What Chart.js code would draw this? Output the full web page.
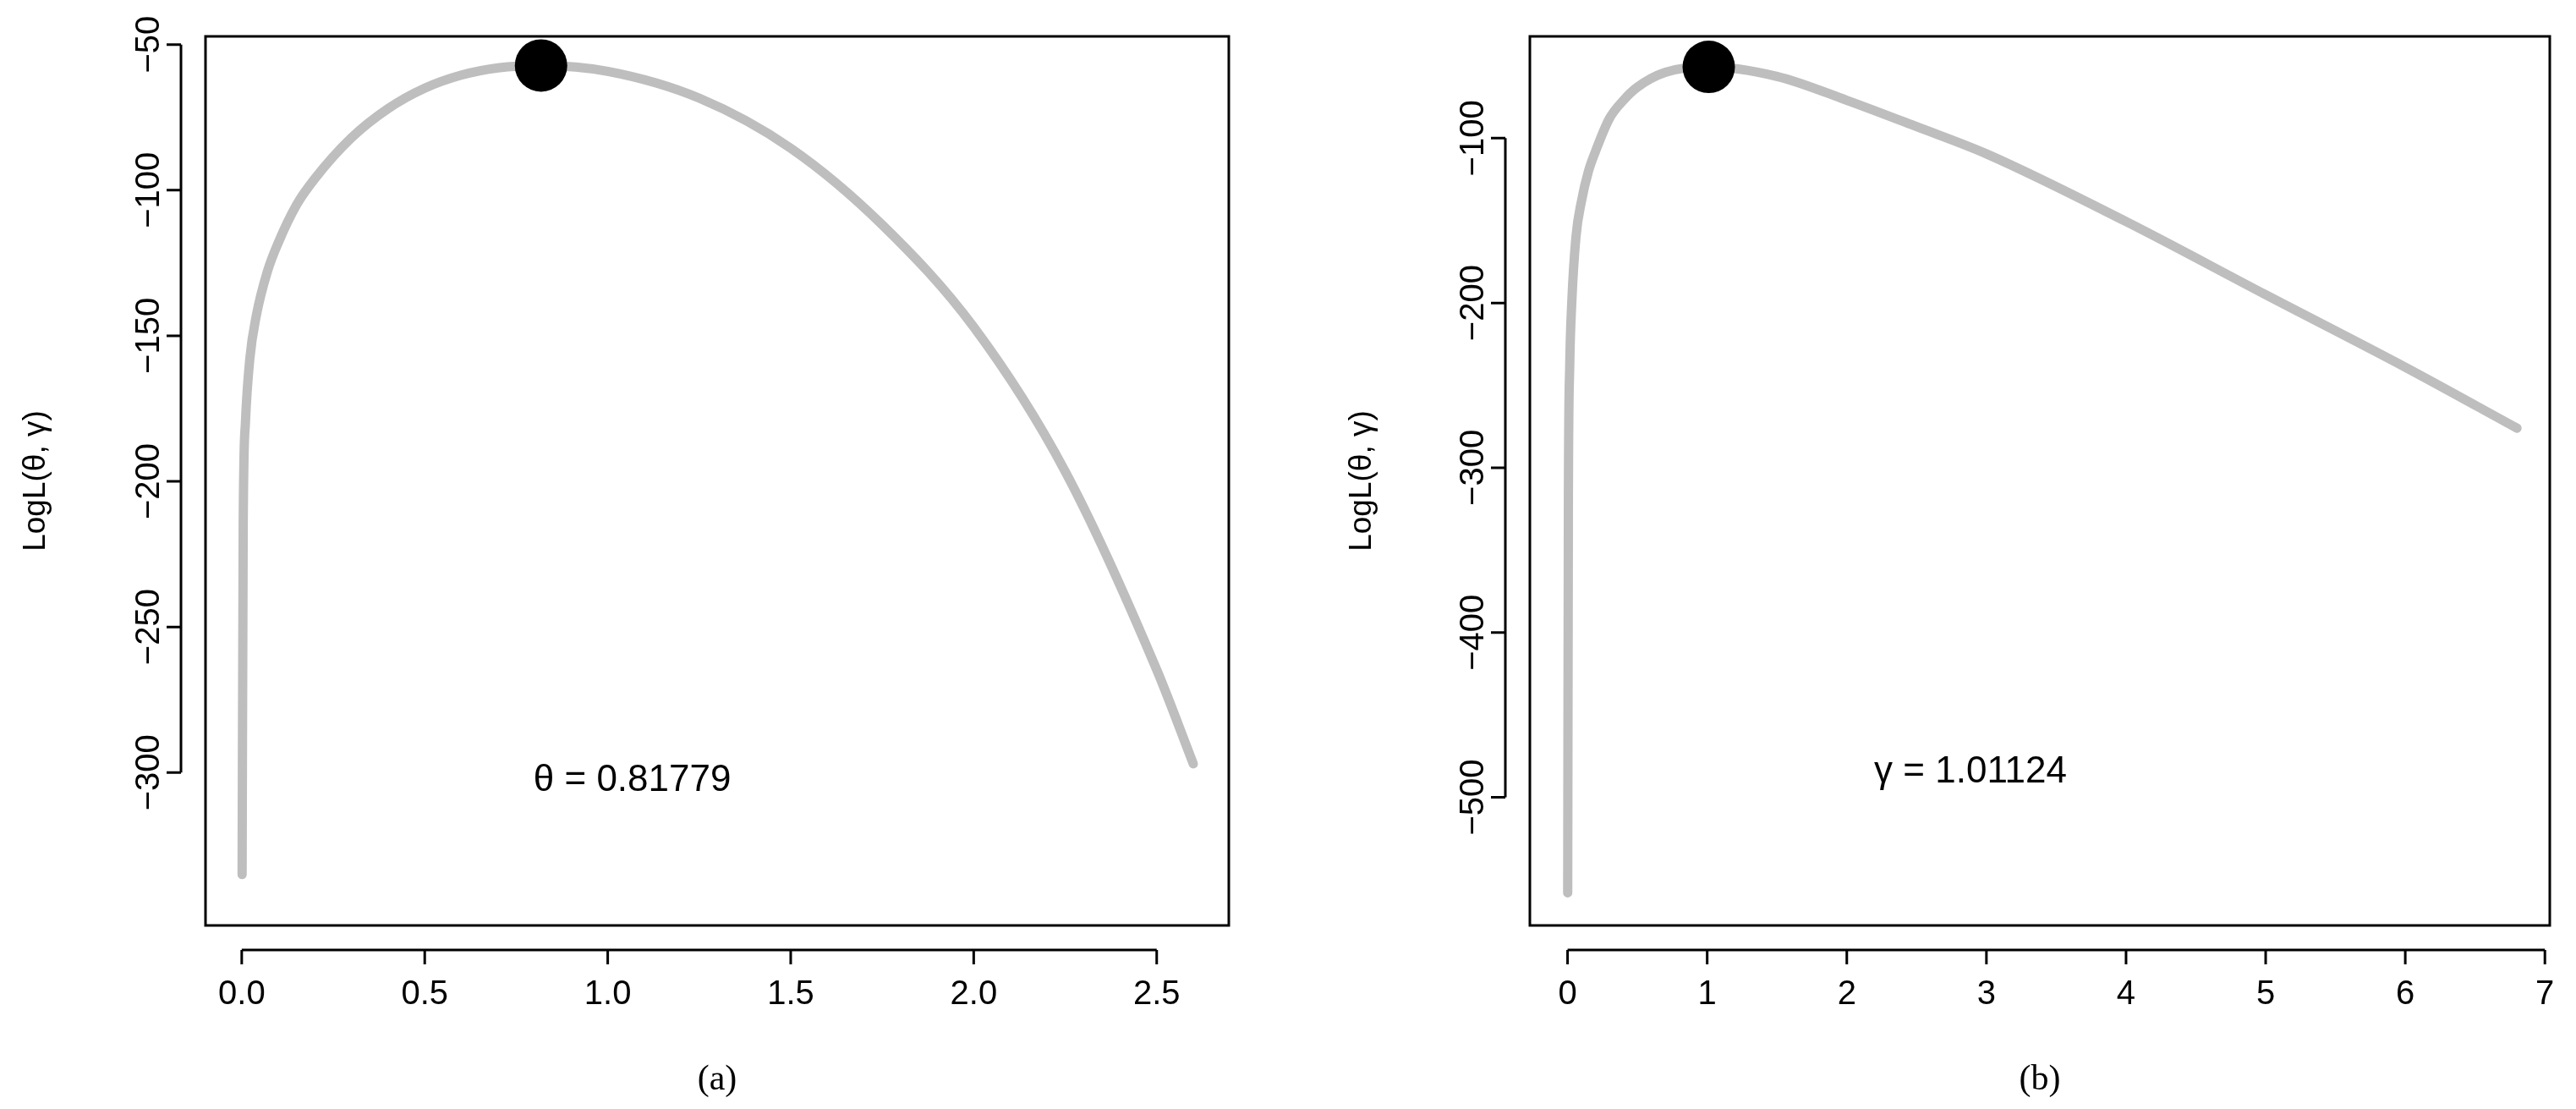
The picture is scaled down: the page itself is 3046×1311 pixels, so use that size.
<!DOCTYPE html>
<html><head><meta charset="utf-8">
<script src="https://cdn.jsdelivr.net/npm/chart.js@4/dist/chart.umd.min.js"></script>
<style>
html,body{margin:0;padding:0;background:#fff;}
#wrap{position:relative;width:3046px;height:1311px;}
canvas{position:absolute;top:0;}
</style></head><body>
<div id="wrap">
<canvas id="ca" style="left:0"></canvas>
<canvas id="cb" style="left:1523px"></canvas>
</div>
<script>
// Panel (a): log-likelihood in theta
const thetaX = [0.001,0.004,0.01,0.022,0.04,0.07,0.1,0.15,0.2,0.3,0.4,0.5,0.6,0.7,0.818,1.0,1.25,1.5,1.75,2.0,2.25,2.5,2.6];
const thetaY = [-335,-215,-180,-158,-143,-128,-118,-105,-96,-82,-72,-65,-60.5,-58,-57.2,-59.2,-68.4,-85.6,-111.9,-147,-196.6,-264.7,-297];
const thetaMax = [0.81779, -57.2];
const thetaXTicks = [0,0.5,1,1.5,2,2.5];
const thetaXLabels = ["0.0","0.5","1.0","1.5","2.0","2.5"];
const thetaYTicks = [-50,-100,-150,-200,-250,-300];
// Panel (b): log-likelihood in gamma
const gammaX = [0.001,0.006,0.015,0.03,0.06,0.1,0.15,0.2,0.3,0.4,0.5,0.7,1.0,1.5,2.0,2.5,3.0,4.0,5.0,6.0,6.8];
const gammaY = [-558,-317,-240,-200,-160,-138,-120,-108,-88,-77,-69,-60,-56.7,-62.5,-77,-93,-109.5,-150.6,-195,-239,-276];
const gammaMax = [1.01124, -56.7];
const gammaXTicks = [0,1,2,3,4,5,6,7];
const gammaXLabels = ["0","1","2","3","4","5","6","7"];
const gammaYTicks = [-100,-200,-300,-400,-500];

const SANS = '"Liberation Sans", Arial, sans-serif';
const SERIF = '"Liberation Serif", "Times New Roman", serif';

function makePanel(id, o){
  const cv = document.getElementById(id);
  const rPlugin = {
    id:'rstyle',
    afterDraw(ch){
      const c = ch.ctx, a = ch.chartArea, xs = ch.scales.x, ys = ch.scales.y;
      c.save();
      c.strokeStyle='#000'; c.lineWidth=3;
      c.strokeRect(a.left, a.top, a.right-a.left, a.bottom-a.top);
      const xl = a.bottom + 29, tl = 17;
      const xp = o.xTicks.map(v=>xs.getPixelForValue(v));
      c.beginPath(); c.moveTo(xp[0], xl); c.lineTo(xp[xp.length-1], xl);
      xp.forEach(p=>{c.moveTo(p,xl); c.lineTo(p,xl+tl);}); c.stroke();
      c.fillStyle='#000'; c.font='40px '+SANS; c.textAlign='center'; c.textBaseline='middle';
      xp.forEach((p,i)=>c.fillText(o.xLabels[i], p, a.bottom+82));
      const yl = a.left - 29;
      const yp = o.yTicks.map(v=>ys.getPixelForValue(v));
      c.beginPath(); c.moveTo(yl, yp[0]); c.lineTo(yl, yp[yp.length-1]);
      yp.forEach(p=>{c.moveTo(yl,p); c.lineTo(yl-tl,p);}); c.stroke();
      yp.forEach((p,i)=>{c.save(); c.translate(a.left-66, p); c.rotate(-Math.PI/2);
        c.fillText(String(o.yTicks[i]).replace('-','\u2212'),0,0); c.restore();});
      c.save(); c.translate(o.yTitleX, (a.top+a.bottom)/2); c.rotate(-Math.PI/2);
      c.font='37px '+SANS; c.fillText('LogL(\u03b8, \u03b3)',0,0); c.restore();
      c.font='42px '+SERIF; c.fillText(o.xTitle, (a.left+a.right)/2, a.bottom+183);
      c.font='44px '+SANS;
      c.fillText(o.note, xs.getPixelForValue(o.noteAt[0]), ys.getPixelForValue(o.noteAt[1]));
      c.restore();
    }
  };
  new Chart(cv, {
    type:'scatter',
    data:{datasets:[
      {data:o.mx.map((x,i)=>({x, y:o.my[i]})), showLine:true, borderColor:'#bebebe', borderWidth:11,
       pointRadius:0, cubicInterpolationMode:'monotone', borderCapStyle:'round', borderJoinStyle:'round', order:2},
      {data:[{x:o.peak[0], y:o.peak[1]}], pointRadius:31, pointBackgroundColor:'#000', pointBorderWidth:0, order:1}
    ]},
    options:{
      responsive:false, animation:false, devicePixelRatio:1,
      layout:{padding:{top:o.padTop, right:o.padRight, left:0, bottom:0}},
      plugins:{legend:{display:false}, tooltip:{enabled:false}},
      scales:{
        x:{type:'linear', min:o.xmin, max:o.xmax, grid:{display:false}, border:{display:false},
           ticks:{display:false}, afterFit(s){s.height=o.bottomH;}},
        y:{type:'linear', min:o.ymin, max:o.ymax, grid:{display:false}, border:{display:false},
           ticks:{display:false}, afterFit(s){s.width=o.leftW;}}
      }
    },
    plugins:[rPlugin]
  });
}
document.getElementById('ca').width=1523; document.getElementById('ca').height=1311;
document.getElementById('cb').width=1523; document.getElementById('cb').height=1311;

makePanel('ca',{mx:thetaX, my:thetaY, peak:thetaMax, xTicks:thetaXTicks, xLabels:thetaXLabels, yTicks:thetaYTicks,
  xmin:-0.099, xmax:2.697, ymin:-352.5, ymax:-47.2, leftW:243, padRight:70, padTop:43, bottomH:217,
  yTitleX:43, xTitle:'(a)', note:'\u03b8 = 0.81779', noteAt:[1.067,-302.9]});
makePanel('cb',{mx:gammaX, my:gammaY, peak:gammaMax, xTicks:gammaXTicks, xLabels:gammaXLabels, yTicks:gammaYTicks,
  xmin:-0.27, xmax:7.035, ymin:-577.8, ymax:-38.2, leftW:286, padRight:31, padTop:43, bottomH:217,
  yTitleX:88, xTitle:'(b)', note:'\u03b3 = 1.01124', noteAt:[2.886,-485]});
</script>
</body></html>
